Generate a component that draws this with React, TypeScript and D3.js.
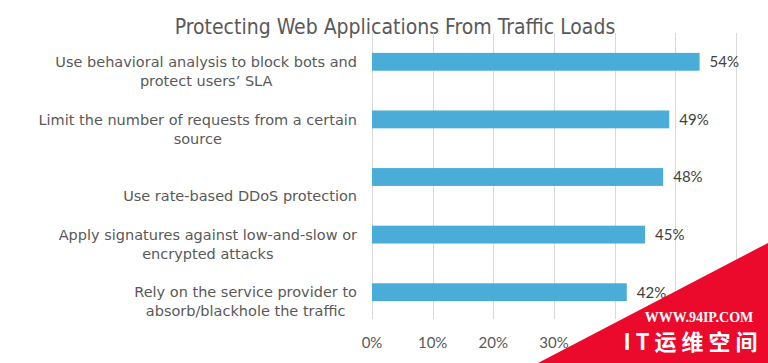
import React, { useMemo } from 'react';
import * as d3 from 'd3';

// ─── data ───────────────────────────────────────────────────────────────────

const TITLE = 'Protecting Web Applications From Traffic Loads';

// each category is a list of wrapped lines; the third one sits on the 2nd line
const categories: string[][] = [
  ['Use behavioral analysis to block bots and', 'protect users’ SLA'],
  ['Limit the number of requests from a certain', 'source'],
  ['', 'Use rate-based DDoS protection'],
  ['Apply signatures against low-and-slow or', 'encrypted attacks'],
  ['Rely on the service provider to', 'absorb/blackhole the traffic'],
];
const values = [0.54, 0.49, 0.48, 0.45, 0.42];
const xTicks = [0, 0.1, 0.2, 0.3, 0.4, 0.5, 0.6];

// ─── layout ─────────────────────────────────────────────────────────────────

const W = 768;
const H = 363;
const PLOT = { left: 372, right: 736, top: 33, bottom: 321 };
const LABEL_RIGHT = 357;
const LINE_H = 19;

const BAR = '#4aadd8';
const GRID = '#d9d9d9';
const TEXT = '#595959';
const VALUE_TEXT = '#404040';
const TITLE_FONT = "'DejaVu Sans Condensed', 'DejaVu Sans', sans-serif";
const LABEL_FONT = "'DejaVu Sans', sans-serif";
const LABEL_SIZE = 14.5;
const NUM_FONT = "Lato, 'Open Sans', sans-serif";

let canvas: HTMLCanvasElement | null = null;
function measure(text: string, font: string): number {
  if (!canvas) canvas = document.createElement('canvas');
  const ctx = canvas.getContext('2d')!;
  ctx.font = font;
  return ctx.measureText(text).width;
}

export default function App() {
  const x = useMemo(() => d3.scaleLinear().domain([0, 0.6]).range([PLOT.left, PLOT.right]), []);
  const y = useMemo(
    () =>
      d3
        .scaleBand<number>()
        .domain(d3.range(categories.length))
        .range([PLOT.top, PLOT.bottom])
        .paddingInner(0.69)
        .paddingOuter(0.345),
    [],
  );
  const pct = d3.format('.0%');

  // width of each label block, so the lines can be centred inside a right-aligned block
  const blockW = useMemo(
    () =>
      categories.map(lines =>
        Math.max(...lines.map(l => measure(l, `${LABEL_SIZE}px ${LABEL_FONT}`))),
      ),
    [],
  );

  return (
    <svg
      width={W}
      height={H}
      style={{ position: 'absolute', left: 0, top: 0, background: '#fff' }}
    >
      <text
        x={395}
        y={34}
        textAnchor="middle"
        fill={TEXT}
        fontFamily={TITLE_FONT}
        fontStretch="condensed"
        fontSize={21}
      >
        {TITLE}
      </text>

      {xTicks.map(t => (
        <line
          key={`g${t}`}
          x1={Math.round(x(t)) + 0.5}
          x2={Math.round(x(t)) + 0.5}
          y1={PLOT.top}
          y2={PLOT.bottom - 2}
          stroke={GRID}
          strokeWidth={1}
        />
      ))}

      {values.map((v, i) => (
        <g key={i}>
          <rect x={x(0)} y={y(i)!} width={x(v) - x(0)} height={y.bandwidth()} fill={BAR} />
          <text
            x={x(v) + 10}
            y={y(i)! + y.bandwidth() / 2}
            dy="0.36em"
            fill={VALUE_TEXT}
            fontFamily={NUM_FONT}
            fontSize={15}
          >
            {pct(v)}
          </text>
        </g>
      ))}

      {categories.map((lines, i) => {
        const cy = y(i)! + y.bandwidth() / 2;
        const cx = LABEL_RIGHT - blockW[i] / 2;
        return (
          <text
            key={`c${i}`}
            textAnchor="middle"
            fill={TEXT}
            fontFamily={LABEL_FONT}
            fontSize={LABEL_SIZE}
          >
            {lines.map((l, j) => (
              <tspan key={j} x={cx} y={cy + j * LINE_H} dy="0.36em">
                {l}
              </tspan>
            ))}
          </text>
        );
      })}

      {xTicks.map(t => (
        <text
          key={`t${t}`}
          x={x(t)}
          y={343}
          dy="0.36em"
          textAnchor="middle"
          fill={TEXT}
          fontFamily={NUM_FONT}
          fontSize={15}
        >
          {pct(t)}
        </text>
      ))}

      {/* watermark in the lower right corner, covering the last tick labels */}
      <path d={`M538,${H} L${W},243 L${W},${H} Z`} fill="#ec0a2c" />
      <text
        x={699}
        y={322}
        textAnchor="middle"
        fill="#fff"
        fontFamily="'Liberation Serif', 'DejaVu Serif', serif"
        fontWeight="bold"
        fontSize={14}
      >
        WWW.94IP.COM
      </text>
      <text
        x={693}
        y={350}
        textAnchor="middle"
        fill="#fff"
        fontFamily="'Noto Sans CJK SC', sans-serif"
        fontWeight="bold"
        fontSize={22}
        letterSpacing={5}
      >
        IT运维空间
      </text>
    </svg>
  );
}
